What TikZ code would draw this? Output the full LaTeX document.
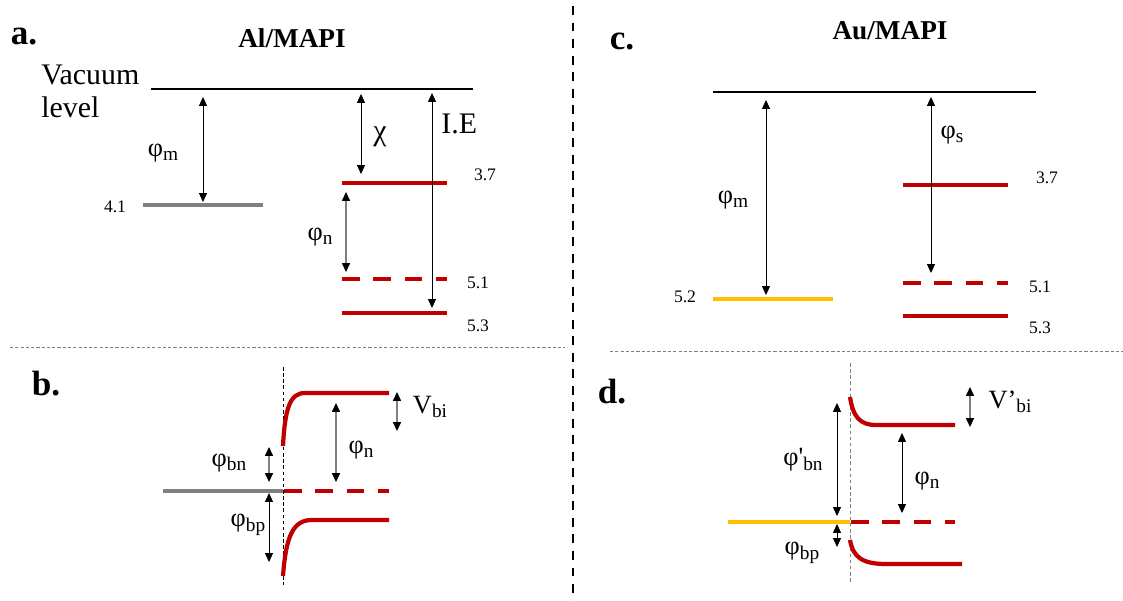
\documentclass[tikz,border=0pt]{standalone}
\usepackage{fontspec}
\setmainfont{Liberation Serif}
\usetikzlibrary{arrows.meta,positioning}
\definecolor{bandred}{HTML}{C00000}
\definecolor{metalgray}{HTML}{808080}
\definecolor{goldmetal}{HTML}{FFC000}
\tikzset{
	numtext/.style={font=\fontsize{10}{12}\selectfont, inner sep=0pt},
	symtext/.style={font=\fontsize{15}{18}\selectfont, inner sep=0pt},
	bigtext/.style={font=\fontsize{17}{20}\selectfont, inner sep=0pt},
	titletext/.style={font=\fontsize{15.5}{18}\selectfont\bfseries, inner sep=0pt},
	panellabel/.style={font=\fontsize{20}{24}\selectfont\bfseries, inner sep=0pt}
}
\tikzset{
	vaclevel/.style={line width=0.6pt},
	redlevel/.style={draw=bandred, line width=2.6pt},
	reddash/.style={draw=bandred, line width=2.6pt, dash pattern=on 10.2pt off 7.6pt},
	graylevel/.style={draw=metalgray, line width=2.4pt},
	goldlevel/.style={draw=goldmetal, line width=2.4pt},
	bandcurve/.style={draw=bandred, line width=2.4pt},
	dimarrow/.style={line width=0.5pt, {Triangle[length=5pt,width=4.5pt]}-{Triangle[length=5pt,width=4.5pt]}},
	graydim/.style={draw=gray, line width=0.7pt, {Triangle[length=5pt,width=4.5pt,black]}-{Triangle[length=5pt,width=4.5pt,black]}},
	sepline/.style={draw=gray, line width=0.5pt, dash pattern=on 1.8pt off 1.2pt},
	midsep/.style={line width=1.4pt, dash pattern=on 5.1pt off 4.3pt}
}
\newcommand{\lowsub}[1]{\raisebox{-2.5pt}{\fontsize{11}{11}\selectfont #1}}

\begin{document}
\begin{tikzpicture}[x=0.02cm, y=-0.02cm]
  \useasboundingbox (0,0) rectangle (1123,601);
  % separators
  \draw[midsep] (573,6) -- (573,601);
  \draw[sepline] (10,347) -- (565,347);
  \draw[sepline] (610,351) -- (1123,351);

  % a. Al/MAPI before contact
  \node[panellabel] (alab) at (24,37) {a.};
  \node[titletext] (atitle) at (292,38) {Al/MAPI};
  \node[bigtext, anchor=base west] (vac1) at (41,85) {Vacuum};
  \node[bigtext, anchor=base west] (vac2) at (41,118) {level};
  \draw[vaclevel] (151,89) -- (473,89);
  \draw[graylevel] (143,205) -- (263,205);
  \draw[redlevel] (342,183) -- (447,183);
  \draw[reddash] (342,279) -- (447,279);
  \draw[redlevel] (342,313) -- (447,313);
  \coordinate (a-phim-t) at (203,97);  \coordinate (a-phim-b) at (203,202);
  \coordinate (a-chi-t) at (361,94);   \coordinate (a-chi-b) at (361,174);
  \coordinate (a-ie-t) at (432,93);    \coordinate (a-ie-b) at (432,308);
  \coordinate (a-phin-t) at (346,192); \coordinate (a-phin-b) at (346,272);
  \draw[dimarrow] (a-phim-t) -- (a-phim-b);
  \draw[dimarrow] (a-chi-t) -- (a-chi-b);
  \draw[dimarrow] (a-ie-t) -- (a-ie-b);
  \draw[graydim] (a-phin-t) -- (a-phin-b);
  \node[symtext] (aphim) at (163,153) {φ\lowsub{m}};
  \node[bigtext] (achi) at (380,137) {χ};
  \node[bigtext, anchor=west] (aie) at (441,124) {I.E};
  \node[symtext] (aphin) at (320,237) {φ\lowsub{n}};
  \node[numtext] (a41) at (115,207) {4.1};
  \node[numtext] (a37) at (485,175) {3.7};
  \node[numtext] (a51) at (478,283) {5.1};
  \node[numtext] (a53) at (478,326) {5.3};

  % b. Al/MAPI in contact
  \node[panellabel] (blab) at (46,384) {b.};
  \draw[dashed, line width=0.5pt, dash pattern=on 2pt off 1.5pt] (283,367) -- (283,585);
  \draw[graylevel] (163,491) -- (283,491);
  \draw[reddash] (284,491) -- (389,491);
  \draw[bandcurve] (283,446) .. controls (285,408) and (290,393) .. (305,393) -- (389,393);
  \draw[bandcurve] (283,576) .. controls (286,536) and (293,520) .. (312,520) -- (389,520);
  \coordinate (b-vbi-t) at (397,392);  \coordinate (b-vbi-b) at (397,431);
  \coordinate (b-phin-t) at (336,403); \coordinate (b-phin-b) at (336,482);
  \coordinate (b-phibn-t) at (269,447); \coordinate (b-phibn-b) at (269,482);
  \coordinate (b-phibp-t) at (269,493); \coordinate (b-phibp-b) at (269,562);
  \draw[graydim] (b-vbi-t) -- (b-vbi-b);
  \draw[graydim] (b-phin-t) -- (b-phin-b);
  \draw[graydim] (b-phibn-t) -- (b-phibn-b);
  \draw[dimarrow] (b-phibp-t) -- (b-phibp-b);
  \node[symtext] (bvbi) at (430,407) {V\lowsub{bi}};
  \node[symtext] (bphin) at (361,450) {φ\lowsub{n}};
  \node[symtext] (bphibn) at (229,463) {φ\lowsub{bn}};
  \node[symtext] (bphibp) at (248,525) {φ\lowsub{bp}};

  % c. Au/MAPI before contact
  \node[panellabel] (clab) at (622,41) {c.};
  \node[titletext] (ctitle) at (890,31) {Au/MAPI};
  \draw[vaclevel] (713,92) -- (1036,92);
  \draw[goldlevel] (713,299) -- (833,299);
  \draw[redlevel] (903,185) -- (1008,185);
  \draw[reddash] (903,283) -- (1008,283);
  \draw[redlevel] (903,316) -- (1008,316);
  \coordinate (c-phim-t) at (766,100); \coordinate (c-phim-b) at (766,295);
  \coordinate (c-phis-t) at (931,97);  \coordinate (c-phis-b) at (931,273);
  \draw[dimarrow] (c-phim-t) -- (c-phim-b);
  \draw[dimarrow] (c-phis-t) -- (c-phis-b);
  \node[symtext] (cphim) at (733,200) {φ\lowsub{m}};
  \node[symtext] (cphis) at (952,135) {φ\lowsub{s}};
  \node[numtext] (c52) at (685,297) {5.2};
  \node[numtext] (c37) at (1047,178) {3.7};
  \node[numtext] (c51) at (1040,287) {5.1};
  \node[numtext] (c53) at (1040,328) {5.3};

  % d. Au/MAPI in contact
  \node[panellabel] (dlab) at (612,392) {d.};
  \draw[gray, line width=0.5pt, dash pattern=on 2pt off 1.5pt] (850,363) -- (850,583);
  \draw[goldlevel] (728,522) -- (850,522);
  \draw[reddash] (851,522) -- (955,522);
  \draw[bandcurve] (850,397) .. controls (853,417) and (860,425) .. (876,425) -- (955,425);
  \draw[bandcurve] (850,540) .. controls (853,557) and (862,564) .. (886,564) -- (962,564);
  \coordinate (d-phibn-t) at (837,403); \coordinate (d-phibn-b) at (837,516);
  \coordinate (d-phibp-t) at (837,524); \coordinate (d-phibp-b) at (837,547);
  \coordinate (d-phin-t) at (902,433);  \coordinate (d-phin-b) at (902,513);
  \coordinate (d-vbi-t) at (970,387);   \coordinate (d-vbi-b) at (970,427);
  \draw[dimarrow] (d-phibn-t) -- (d-phibn-b);
  \draw[dimarrow] (d-phibp-t) -- (d-phibp-b);
  \draw[dimarrow] (d-phin-t) -- (d-phin-b);
  \draw[graydim] (d-vbi-t) -- (d-vbi-b);
  \node[symtext] (dphibn) at (803,460) {φ\textquotesingle\lowsub{bn}};
  \node[symtext] (dphibp) at (802,553) {φ\lowsub{bp}};
  \node[symtext] (dphin) at (927,481) {φ\lowsub{n}};
  \node[symtext] (dvbi) at (1010,402) {V’\lowsub{bi}};
\end{tikzpicture}
\end{document}
